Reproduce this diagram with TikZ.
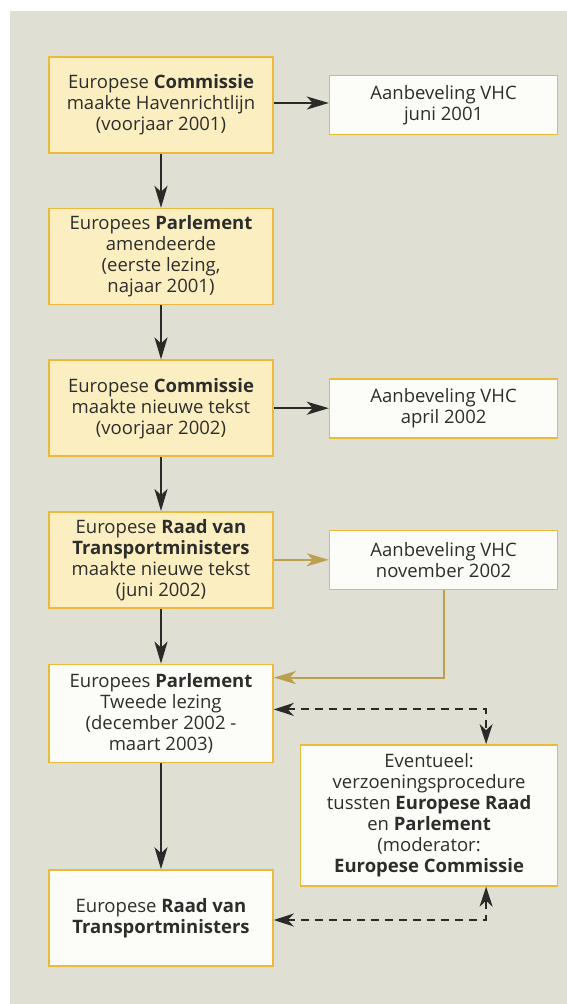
\documentclass[tikz,border=0pt]{standalone}
\usepackage{fontspec}
\setmainfont{Open Sans}
\usetikzlibrary{positioning}
\usetikzlibrary{arrows.meta}

\definecolor{panelgray}{RGB}{224,223,212}
\definecolor{boxyellow}{RGB}{251,239,194}
\definecolor{boxborder}{RGB}{234,186,58}
\definecolor{boxwhite}{RGB}{252,252,248}
\definecolor{arrowdark}{RGB}{42,42,40}
\definecolor{arrowgold}{RGB}{188,160,82}
\definecolor{textdark}{RGB}{45,45,43}

\begin{document}
\begin{tikzpicture}[x=1pt, y=-1pt,
yellowbox/.style={rectangle, draw=boxborder, fill=boxyellow, line width=1.6pt, inner sep=0pt, minimum width=224pt, minimum height=96pt, align=center, text=textdark, font=\fontsize{18.5}{21}\selectfont},
whitebox/.style={rectangle, draw=boxborder, fill=boxwhite, line width=1.6pt, inner sep=0pt, minimum width=228pt, minimum height=59pt, align=center, text=textdark, font=\fontsize{18.5}{21}\selectfont},
flowarrow/.style={-{Stealth[length=22pt, width=13pt, inset=6pt]}, line width=2.2pt, draw=arrowdark},
goldarrow/.style={-{Stealth[length=22pt, width=13pt, inset=6pt]}, line width=2.2pt, draw=arrowgold},
dasharrow/.style={{Stealth[length=20pt, width=13pt, inset=6pt]}-{Stealth[length=20pt, width=13pt, inset=6pt]}, line width=2pt, draw=arrowdark, dash pattern=on 8pt off 6pt},
node distance=54pt,
]

% Grey paper panel behind the scheme
\fill[white] (0,0) rectangle (567,1004);
\fill[panelgray] (10,11) rectangle (567,1004);

% Main procedure (left column)
\node[yellowbox]        (comm1)                           at (161,105)  {Europese \textbf{Commissie}\\maakte Havenrichtlijn\\(voorjaar 2001)};
\node[yellowbox]        (parl1)      [below=of comm1]     {Europees \textbf{Parlement}\\amendeerde\\(eerste lezing,\\najaar 2001)};
\node[yellowbox]        (comm2)      [below=of parl1]     {Europese \textbf{Commissie}\\maakte nieuwe tekst\\(voorjaar 2002)};
\node[yellowbox]        (raad1)      [below=of comm2]     {Europese \textbf{Raad van}\\\textbf{Transportministers}\\maakte nieuwe tekst\\(juni 2002)};
\node[whitebox, minimum width=224pt, minimum height=98pt] (parl2) [below=55pt of raad1] {Europees \textbf{Parlement}\\Tweede lezing\\(december 2002 -\\maart 2003)};
\node[whitebox, minimum width=224pt, minimum height=96pt] (raad2) [below=106pt of parl2] {Europese \textbf{Raad van}\\\textbf{Transportministers}};

% Recommendations (right column)
\node[whitebox]         (vhc1)       [right=55pt of comm1]   {Aanbeveling VHC\\juni 2001};
\node[whitebox]         (vhc2)       [right=55pt of comm2]   {Aanbeveling VHC\\april 2002};
\node[whitebox]         (vhc3)       [right=55pt of raad1]   {Aanbeveling VHC\\november 2002};

% Conciliation
\node[whitebox, minimum width=257pt, minimum height=141pt, anchor=north east] (verzoening) at ([yshift=-154pt]vhc3.south east) {Eventueel:\\verzoeningsprocedure\\tussten \textbf{Europese Raad}\\en \textbf{Parlement}\\(moderator:\\\textbf{Europese Commissie}};

\draw[flowarrow] (comm1) -- (parl1);
\draw[flowarrow] (parl1) -- (comm2);
\draw[flowarrow] (comm2) -- (raad1);
\draw[flowarrow] (raad1) -- (parl2);
\draw[flowarrow] (parl2) -- (raad2);
\draw[flowarrow] ([yshift=2pt]comm1.east) -- ([yshift=2pt]vhc1.west);
\draw[flowarrow] (comm2.east) -- (comm2.east -| vhc2.west);
\draw[goldarrow] (raad1.east) -- (vhc3.west);
\draw[goldarrow] (vhc3.south) |- ([yshift=-14pt]parl2.north east);
\draw[dasharrow] ([yshift=4pt]parl2.east) -| ([xshift=57pt]verzoening.north);
\draw[dasharrow] ([yshift=-2pt]raad2.east) -| ([xshift=57pt]verzoening.south);
\end{tikzpicture}
\end{document}
